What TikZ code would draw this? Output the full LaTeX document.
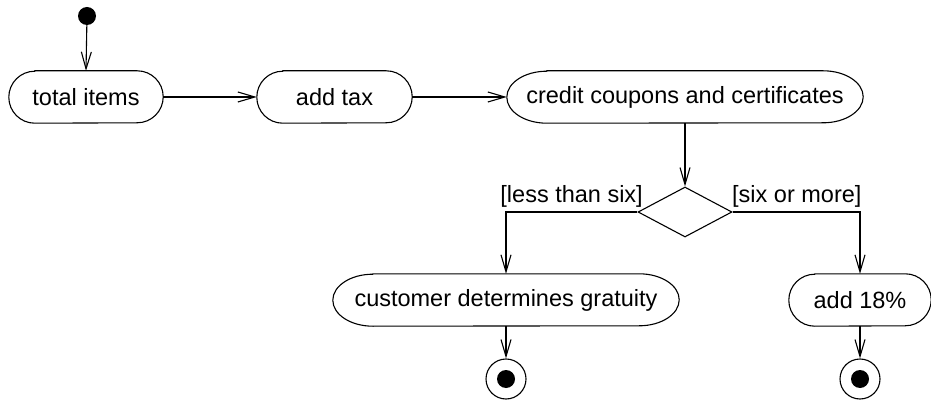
\documentclass[tikz,border=0pt]{standalone}
\usepackage{fontspec}
\setmainfont{Liberation Sans}
\usetikzlibrary{arrows.meta,shapes.geometric}
\newcommand\capsule[2]{%
  \draw[line width=1.1pt] ([xshift=#2]#1.north west) -- ([xshift=-#2]#1.north east)
    arc[start angle=90,end angle=-90,x radius=#2,y radius=26pt]
    -- ([xshift=#2]#1.south west)
    arc[start angle=-90,end angle=-270,x radius=#2,y radius=26pt] -- cycle;}
\begin{document}
\begin{tikzpicture}[x=1pt,y=-1pt,
  every node/.style={font=\fontsize{23.5}{28}\selectfont},
  act/.style={rectangle,inner sep=0pt,minimum height=52pt},
  arr/.style={line width=1.1pt,-{Straight Barb[length=17pt,width=10pt,line width=1.1pt]}},
  dec/.style={diamond,draw,line width=1.1pt,inner sep=0pt,minimum width=94pt,minimum height=50pt},
  lbl/.style={inner sep=0pt}]
\useasboundingbox (0,0) rectangle (931,403);
% initial node
\node[circle,fill=black,inner sep=0pt,minimum size=18pt] (init) at (87,16) {};
% actions
\node[act,minimum width=154pt] (ti) at (86,97) {total items};
\node[act,minimum width=155pt] (tax) at (334.5,97) {add tax};
\node[act,minimum width=356pt] (cc) at (685,97) {credit coupons and certificates};
\node[dec] (dia) at (685,212) {};
\node[act,minimum width=346pt] (cdg) at (506,300) {customer determines gratuity};
\node[act,minimum width=142pt] (a18) at (860,300) {add 18\%};
\capsule{ti}{26pt}
\capsule{tax}{26pt}
\capsule{cc}{40pt}
\capsule{cdg}{40pt}
\capsule{a18}{26pt}
% final nodes
\node[circle,draw,line width=1.1pt,inner sep=0pt,minimum size=40pt] (f1) at (506,379) {};
\node[circle,fill=black,inner sep=0pt,minimum size=18pt] (f1i) at (f1) {};
\node[circle,draw,line width=1.1pt,inner sep=0pt,minimum size=40pt] (f2) at (860,379) {};
\node[circle,fill=black,inner sep=0pt,minimum size=18pt] (f2i) at (f2) {};
% guard labels
\node[lbl,anchor=base east] (g1) at (643,203) {[less than six]};
\node[lbl,anchor=base west] (g2) at (732,203) {[six or more]};
% connectors
\draw[arr] (init) -- (ti.north);
\draw[arr] (ti.east) -- (tax.west);
\draw[arr] (tax.east) -- (cc.west);
\draw[arr] (cc.south) -- (dia.north);
\draw[arr] (dia.west) -| (cdg.north);
\draw[arr] (dia.east) -| (a18.north);
\draw[arr] (cdg.south) -- (f1.north);
\draw[arr] (a18.south) -- (f2.north);
\end{tikzpicture}
\end{document}
